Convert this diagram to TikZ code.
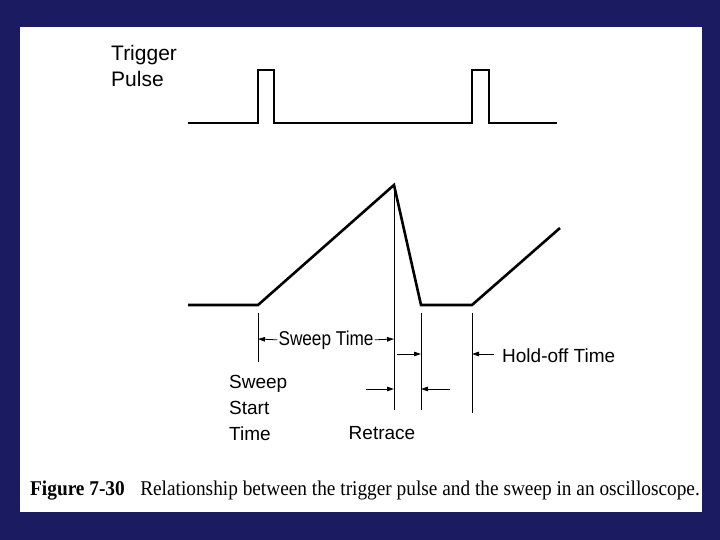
\documentclass[tikz,border=0pt]{standalone}
\usepackage{fontspec}
\setmainfont{Liberation Serif}
\setsansfont{Liberation Sans}
\usetikzlibrary{arrows.meta}
\definecolor{slidebg}{HTML}{1B1B62}
\tikzset{
  wave/.style    ={line width=2.6pt, line join=miter},
  guide/.style   ={line width=0.8pt},
  dimarrow/.style={-{Triangle[length=7pt,width=4.5pt]}, line width=0.8pt},
  lbl/.style     ={font=\sffamily\fontsize{19}{26}\selectfont, inner sep=0pt, align=left},
  capt/.style    ={font=\fontsize{21}{24}\selectfont, inner sep=0pt, xscale=0.92},
}

\begin{document}
\begin{tikzpicture}[x=1pt, y=-1pt]
  % slide frame
  \fill[slidebg] (0,0) rectangle (720,540);
  \fill[white] (20,27) rectangle (702,512);
  \useasboundingbox (0,0) rectangle (720,540);

  % trigger pulse
  \node[lbl, font=\sffamily\fontsize{21}{26}\selectfont, anchor=north west] (trig) at (111,45) {Trigger\\Pulse};
  \coordinate (tstart) at (188,123);
  \coordinate (tend)   at (557,123);
  \draw[wave] (tstart) -| (258,70) -| (274,123) -| (472,70) -| (489,123) -- (tend);

  % sweep
  \coordinate (sstart) at (188,305);
  \coordinate (start)  at (258,305);
  \coordinate (peak)   at (394,185);
  \coordinate (flat)   at (421,305);
  \coordinate (hold)   at (472,305);
  \coordinate (send)   at (560,228);
  \draw[wave] (sstart) -- (start) -- (peak) -- (flat) -- (hold) -- (send);

  % guide lines
  \draw[guide] (258,313) -- (258,362);
  \draw[guide] (peak) -- (394,410);
  \draw[guide] (421,313) -- (421,410);
  \draw[guide] (472,313) -- (472,413);

  % labels
  \node[lbl, font=\sffamily\fontsize{20}{26}\selectfont, anchor=base, xscale=0.86] (swtime) at (326,345) {Sweep Time};
  \node[lbl, anchor=base west] (holdoff) at (502,362) {Hold-off Time};
  \node[lbl, anchor=north west] (sstime) at (229,375) {Sweep\\Start\\Time};
  \node[lbl] (retrace) at (382,433) {Retrace};
  \node[capt, anchor=base west] (caption) at (30,495) {\textbf{Figure 7-30}\hspace{0.8em}Relationship between the trigger pulse and the sweep in an oscilloscope.};

  % dimension arrows
  \coordinate (rtop)  at (397,354);
  \coordinate (rlow1) at (366,389);
  \coordinate (rlow2) at (450,389);
  \draw[dimarrow] ([xshift=-1pt]swtime.west) -- (258,339);
  \draw[dimarrow] ([xshift=1pt]swtime.east) -- (394,339);
  \draw[dimarrow] (rtop) -- (421,354);
  \draw[dimarrow] ([xshift=-8pt]holdoff.west |- 0,354) -- (472,354);
  \draw[dimarrow] (rlow1) -- (394,389);
  \draw[dimarrow] (rlow2) -- (421,389);
\end{tikzpicture}
\end{document}
